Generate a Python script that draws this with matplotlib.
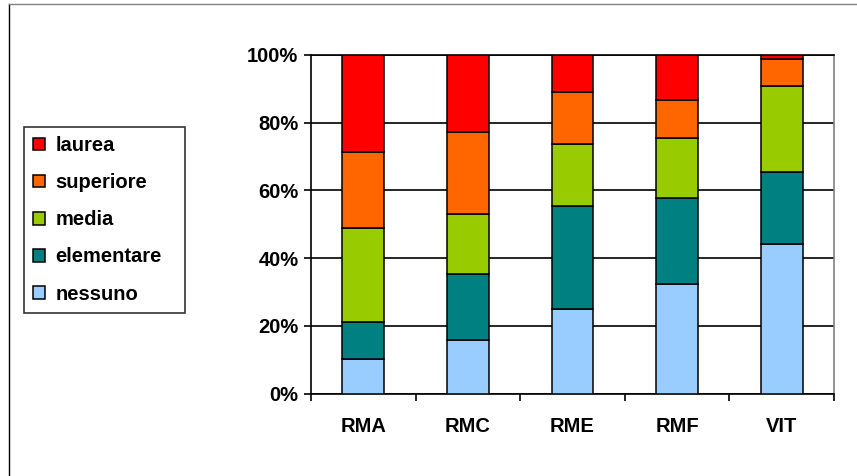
import matplotlib
matplotlib.use("Agg")
import matplotlib.pyplot as plt
from matplotlib.lines import Line2D
import numpy as np

categories = ["RMA", "RMC", "RME", "RMF", "VIT"]
series_names = ["nessuno", "elementare", "media", "superiore", "laurea"]
nessuno = [10.3, 15.8, 25.1, 32.3, 44.1]
elementare = [10.9, 19.4, 30.4, 25.5, 21.3]
media = [27.8, 17.9, 18.1, 17.7, 25.4]
superiore = [22.2, 24.2, 15.6, 11.2, 7.9]
laurea = [28.8, 22.7, 10.8, 13.3, 1.3]
colors = ["#99CCFF", "#008080", "#99CC00", "#FF6600", "#FF0000"]
y_ticks = [0, 20, 40, 60, 80, 100]
y_tick_labels = ["0%", "20%", "40%", "60%", "80%", "100%"]

plt.rcParams['font.family'] = ['Liberation Sans', 'DejaVu Sans']

W, H = 857, 476
fig = plt.figure(figsize=(W / 100, H / 100), dpi=100)
fig.patch.set_facecolor("white")

ax = fig.add_axes([311 / W, 1 - 393.5 / H, (834 - 311) / W, (393.5 - 55) / H])

data = [nessuno, elementare, media, superiore, laurea]
x = np.arange(len(categories))
bottom = np.zeros(len(categories))
handles = []
for name, vals, col in zip(series_names, data, colors):
    vals = np.array(vals, dtype=float)
    b = ax.bar(x, vals, 0.4, bottom=bottom, color=col, edgecolor="black",
               linewidth=1.1, label=name, zorder=3)
    handles.append(b)
    bottom += vals

ax.set_xlim(-0.5, len(categories) - 0.5)
ax.set_ylim(0, 100)
ax.set_yticks(y_ticks)
ax.set_yticklabels(y_tick_labels, fontsize=14.5, fontweight="bold")
ax.set_xticks(x)
ax.set_xticklabels(categories, fontsize=14.5, fontweight="bold")
ax.tick_params(axis="x", which="major", length=0, pad=17)
ax.set_xticks(np.arange(-0.5, len(categories), 1.0), minor=True)
ax.tick_params(axis="x", which="minor", length=5, width=1.2, direction="out", color="black")
ax.tick_params(axis="y", length=5, width=1.2, direction="out", pad=4)
ax.yaxis.grid(True, color="black", linewidth=1.2, zorder=0)
ax.set_axisbelow(True)
for side in ["left", "bottom"]:
    ax.spines[side].set_color("black")
    ax.spines[side].set_linewidth(1.2)
ax.spines["right"].set_color("#808080")
ax.spines["right"].set_linewidth(1.2)
ax.spines["top"].set_color("black")
ax.spines["top"].set_linewidth(1.2)

leg = fig.legend(handles[::-1], series_names[::-1], loc="upper left",
                 bbox_to_anchor=(24 / W, 1 - 314 / H, 161 / W, 187 / H),
                 mode="expand",
                 prop={"size": 14.5, "weight": "bold"},
                 frameon=True, fancybox=False, shadow=False,
                 handlelength=0.6, handleheight=0.6, handletextpad=0.5,
                 labelspacing=0.9, borderpad=0.45, borderaxespad=0)
leg.get_frame().set_edgecolor("black")
leg.get_frame().set_linewidth(1.2)

# outer chart frame (left and top edges)
fig.add_artist(Line2D([8.5 / W, 8.5 / W], [0, 1 - 4 / H], color="black", linewidth=1.0))
fig.add_artist(Line2D([8.5 / W, 1], [1 - 4 / H, 1 - 4 / H], color="#808080", linewidth=1.0))

fig.savefig("out.png", dpi=100)
